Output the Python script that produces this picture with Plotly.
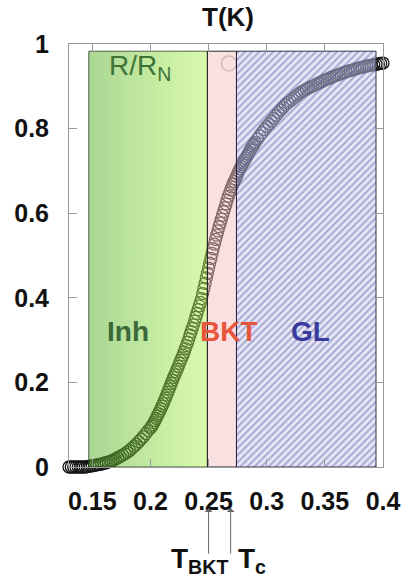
import plotly.graph_objects as go

# ---- data ----
T = [0.122, 0.124, 0.126, 0.128, 0.130, 0.132, 0.134, 0.136, 0.138, 0.140,
     0.142, 0.144, 0.146, 0.148, 0.150, 0.152, 0.154, 0.156, 0.158, 0.160,
     0.162, 0.164, 0.166, 0.168, 0.170, 0.172, 0.174, 0.176, 0.178, 0.180,
     0.182, 0.184, 0.186, 0.188, 0.190, 0.192, 0.194, 0.196, 0.198,
     0.200, 0.201, 0.202, 0.203, 0.204, 0.205, 0.206, 0.207, 0.208, 0.209,
     0.210, 0.211, 0.212, 0.213, 0.214, 0.215, 0.216, 0.217, 0.218, 0.219,
     0.220, 0.221, 0.222, 0.223, 0.224, 0.225, 0.226, 0.227, 0.228, 0.229,
     0.230, 0.231, 0.232, 0.233, 0.234, 0.235, 0.236, 0.237, 0.238, 0.239,
     0.240, 0.241, 0.242, 0.243, 0.244, 0.245, 0.246, 0.247, 0.248, 0.249,
     0.250, 0.251, 0.252, 0.253, 0.254, 0.255, 0.256, 0.257, 0.258, 0.259,
     0.260, 0.261, 0.262, 0.263, 0.264, 0.265, 0.266, 0.267, 0.268, 0.269,
     0.270, 0.271, 0.272, 0.273, 0.274, 0.275, 0.276, 0.277, 0.278, 0.279,
     0.280, 0.281, 0.282, 0.283, 0.284, 0.285, 0.286, 0.287, 0.288, 0.289,
     0.290,
     0.292, 0.294, 0.296, 0.298, 0.300, 0.302, 0.304, 0.306, 0.308, 0.310,
     0.312, 0.314, 0.316, 0.318, 0.320, 0.322, 0.324, 0.326, 0.328, 0.330,
     0.332, 0.334, 0.336, 0.338, 0.340, 0.342, 0.344, 0.346, 0.348, 0.350,
     0.352, 0.354, 0.356, 0.358, 0.360, 0.362, 0.364, 0.366, 0.368, 0.370,
     0.372, 0.374, 0.376, 0.378, 0.380, 0.382, 0.384, 0.386, 0.388, 0.390,
     0.392, 0.394, 0.396, 0.398, 0.400]
R_RN = [0.000, 0.000, 0.000, 0.000, 0.000, 0.000, 0.000, 0.000, 0.000, 0.000,
        0.000, 0.000, 0.001, 0.002, 0.003, 0.004, 0.005, 0.006, 0.007, 0.009,
        0.010, 0.012, 0.014, 0.016, 0.019, 0.022, 0.025, 0.028, 0.031, 0.035,
        0.039, 0.044, 0.049, 0.054, 0.060, 0.066, 0.072, 0.079, 0.086,
        0.092, 0.096, 0.100, 0.105, 0.110, 0.115, 0.121, 0.126, 0.132, 0.138,
        0.144, 0.150, 0.157, 0.163, 0.170, 0.177, 0.184, 0.191, 0.198, 0.205,
        0.212, 0.218, 0.225, 0.231, 0.238, 0.245, 0.252, 0.258, 0.265, 0.272,
        0.280, 0.287, 0.295, 0.303, 0.312, 0.320, 0.328, 0.336, 0.345, 0.354,
        0.363, 0.372, 0.381, 0.389, 0.398, 0.410, 0.422, 0.434, 0.447, 0.458,
        0.470, 0.482, 0.493, 0.505, 0.516, 0.527, 0.538, 0.548, 0.558, 0.568,
        0.577, 0.586, 0.595, 0.604, 0.613, 0.622, 0.631, 0.640, 0.648, 0.655,
        0.662, 0.669, 0.675, 0.681, 0.687, 0.693, 0.699, 0.705, 0.710, 0.715,
        0.720, 0.725, 0.730, 0.735, 0.740, 0.745, 0.750, 0.755, 0.759, 0.763,
        0.767,
        0.775, 0.783, 0.791, 0.798, 0.805, 0.811, 0.818, 0.824, 0.831, 0.838,
        0.844, 0.850, 0.856, 0.861, 0.865, 0.869, 0.874, 0.879, 0.883, 0.887,
        0.890, 0.893, 0.896, 0.899, 0.901, 0.904, 0.907, 0.909, 0.912, 0.915,
        0.917, 0.919, 0.922, 0.924, 0.926, 0.928, 0.930, 0.932, 0.934, 0.936,
        0.937, 0.939, 0.941, 0.942, 0.944, 0.945, 0.946, 0.948, 0.949, 0.950,
        0.951, 0.952, 0.953, 0.954, 0.955]

x_ticks = [0.15, 0.2, 0.25, 0.3, 0.35, 0.4]
x_tick_labels = ["0.15", "0.2", "0.25", "0.3", "0.35", "0.4"]
y_ticks = [0, 0.2, 0.4, 0.6, 0.8, 1]
y_tick_labels = ["0", "0.2", "0.4", "0.6", "0.8", "1"]

region_names = ["Inh", "BKT", "GL"]
region_bounds = [0.147, 0.249, 0.274, 0.394]
region_top = 0.983
T_BKT = 0.250
T_c = 0.269

fig = go.Figure()

# legend-like open circle
fig.add_trace(go.Scatter(x=[0.2675], y=[0.954], mode="markers",
                         marker=dict(symbol="circle-open", size=15, color="#b0b0b0",
                                     line=dict(width=1.5)),
                         showlegend=False, hoverinfo="skip"))

# measured curve
fig.add_trace(go.Scatter(x=T, y=R_RN, mode="markers", cliponaxis=False,
                         marker=dict(symbol="circle-open", size=12, color="#151515",
                                     line=dict(width=1.3)),
                         showlegend=False))

def rect(x0, x1):
    return [x0, x1, x1, x0, x0], [0, 0, region_top, region_top, 0]

# Inh region: green gradient
xs, ys = rect(region_bounds[0], region_bounds[1])
fig.add_trace(go.Scatter(x=xs, y=ys, mode="lines", fill="toself",
                         line=dict(color="rgba(40,60,40,0.8)", width=1),
                         fillgradient=dict(type="horizontal",
                                           colorscale=[[0, "rgba(85,175,40,0.5)"],
                                                       [1, "rgba(180,245,90,0.5)"]]),
                         showlegend=False, hoverinfo="skip"))
# BKT region: light pink
xs, ys = rect(region_bounds[1], region_bounds[2])
fig.add_trace(go.Scatter(x=xs, y=ys, mode="lines", fill="toself",
                         line=dict(color="rgba(20,20,20,0.9)", width=1),
                         fillcolor="rgba(245,195,195,0.5)",
                         showlegend=False, hoverinfo="skip"))
# GL region: hatched
xs, ys = rect(region_bounds[2], region_bounds[3])
fig.add_trace(go.Scatter(x=xs, y=ys, mode="lines", fill="toself",
                         line=dict(color="rgba(30,30,60,0.9)", width=1),
                         fillpattern=dict(shape="/", bgcolor="rgba(205,205,235,0.5)",
                                          fgcolor="rgba(85,95,165,0.9)",
                                          size=5, solidity=0.4),
                         showlegend=False, hoverinfo="skip"))

font_family = "Liberation Sans, Arial, sans-serif"

axis_common = dict(showline=True, linecolor="#999999", linewidth=1, mirror="ticks",
                   ticks="inside", ticklen=8, tickcolor="#999999", showgrid=False,
                   zeroline=False, automargin=False,
                   tickfont=dict(family=font_family, size=25, color="#111111", weight="bold"))

fig.update_layout(
    width=409, height=584,
    margin=dict(l=69, r=26, t=44, b=117),
    paper_bgcolor="white", plot_bgcolor="white",
    xaxis=dict(range=[0.13, 0.4], tickvals=x_ticks, ticktext=x_tick_labels,
               ticklabelstandoff=12, **axis_common),
    yaxis=dict(range=[0, 1], tickvals=y_ticks, ticktext=y_tick_labels,
               ticklabelstandoff=14, **axis_common),
)

ann = []
ann.append(dict(text="T(K)", xref="paper", yref="paper", x=0.506, y=1.064,
                xanchor="center", yanchor="middle", showarrow=False,
                font=dict(family=font_family, size=26, color="#111111", weight="bold")))
ann.append(dict(text="R/R<sub>N</sub>", xref="x", yref="y", x=0.191, y=0.945,
                xanchor="center", yanchor="middle", showarrow=False,
                font=dict(family=font_family, size=28, color="#3f7336")))
label_x = [0.1807, 0.2675, 0.338]
label_colors = ["#3a6a3a", "#e8553d", "#3a3a9e"]
for name, lx, c in zip(region_names, label_x, label_colors):
    ann.append(dict(text=name, xref="x", yref="y", x=lx, y=0.32, showarrow=False,
                    xanchor="center", yanchor="middle",
                    font=dict(family=font_family, size=28, color=c, weight="bold")))
for tx in [T_BKT, T_c]:
    ann.append(dict(text="", xref="x", yref="paper", x=tx, y=-0.097,
                    showarrow=True, ax=0, ay=47, arrowhead=1, arrowsize=1.3,
                    arrowwidth=1, arrowcolor="#666666"))
ann.append(dict(text="T<sub>BKT</sub>", xref="x", yref="paper", x=0.2425, y=-0.222,
                xanchor="center", yanchor="middle", showarrow=False,
                font=dict(family=font_family, size=28, color="#111111", weight="bold")))
ann.append(dict(text="T<sub>c</sub>", xref="x", yref="paper", x=0.2872, y=-0.222,
                xanchor="center", yanchor="middle", showarrow=False,
                font=dict(family=font_family, size=28, color="#111111", weight="bold")))
fig.update_layout(annotations=ann)

fig.write_html("out.html", config={"displayModeBar": False},
               post_script="document.body.style.margin='0px';")
